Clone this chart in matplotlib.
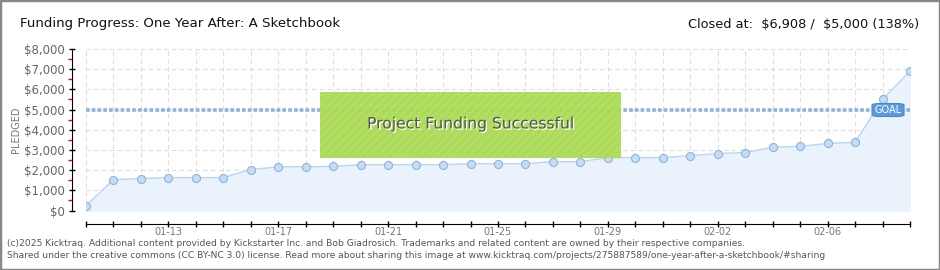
import matplotlib
matplotlib.use("Agg")
import matplotlib.pyplot as plt
from matplotlib.patches import Rectangle, FancyBboxPatch
import matplotlib.patheffects as pe
import numpy as np

# ---- data ----
dates = ["01-10", "01-11", "01-12", "01-13", "01-14", "01-15", "01-16", "01-17",
         "01-18", "01-19", "01-20", "01-21", "01-22", "01-23", "01-24", "01-25",
         "01-26", "01-27", "01-28", "01-29", "01-30", "01-31", "02-01", "02-02",
         "02-03", "02-04", "02-05", "02-06", "02-07", "02-08", "02-09"]
pledged = [240, 1530, 1580, 1630, 1630, 1630, 2030, 2160, 2170, 2180, 2270, 2270,
           2270, 2270, 2320, 2320, 2320, 2420, 2420, 2620, 2620, 2620, 2720, 2820,
           2870, 3130, 3180, 3320, 3380, 5510, 6908]
goal = 5000
labeled_dates = ["01-13", "01-17", "01-21", "01-25", "01-29", "02-02", "02-06"]
yticks = [0, 1000, 2000, 3000, 4000, 5000, 6000, 7000, 8000]
ytick_labels = ["$0", "$1,000", "$2,000", "$3,000", "$4,000", "$5,000", "$6,000", "$7,000", "$8,000"]

W, H = 940, 270
fig = plt.figure(figsize=(W / 100, H / 100), dpi=100)

def fx(px):
    return px / W

def fy(py):
    return 1 - py / H

ax = fig.add_axes([fx(86), fy(210.5), fx(910) - fx(86), fy(49) - fy(210.5)])
x = np.arange(len(dates))
ax.set_xlim(0, len(dates) - 1)
ax.set_ylim(0, 8000)

# grid
ax.set_xticks(x)
ax.set_yticks(yticks)
ax.grid(True, color="#dddddd", linestyle=(0, (4, 3)), linewidth=0.8)
ax.set_axisbelow(True)

# area + line + markers
ax.fill_between(x, pledged, 0, color="#eaf3fc", zorder=1)
ax.plot(x, pledged, color="#b9d5f2", linewidth=1.0, zorder=3)
ax.plot(x, pledged, linestyle="none", marker="o", markersize=5.8,
        markerfacecolor="#c4dcf6", markeredgecolor="#90b4dc", markeredgewidth=0.8, zorder=4)

# goal line
ax.axhline(goal, color="#8cb2e0", linewidth=2.6, linestyle=(0, (1.0, 0.6)), zorder=2)

# spines
for s in ["top", "right"]:
    ax.spines[s].set_visible(False)
ax.spines["left"].set_position(("outward", 10))
ax.spines["bottom"].set_position(("outward", 10))
ax.spines["left"].set_color("black")
ax.spines["bottom"].set_color("black")

ax.set_yticklabels(ytick_labels)
ax.set_xticklabels([d if d in labeled_dates else "" for d in dates])
ax.tick_params(axis="y", direction="inout", length=5, width=1, colors="black",
               labelcolor="#666666", labelsize=8.5, pad=3)
ax.tick_params(axis="x", direction="inout", length=5, width=1, colors="black",
               labelcolor="#777777", labelsize=7, pad=-0.5)
ax.set_yticks([v + 500 for v in yticks[:-1]], minor=True)
ax.tick_params(axis="y", which="minor", direction="out", length=3, width=1, color="red")

ax.set_ylabel("PLEDGED", color="#777777", fontsize=7, labelpad=2)

# green success box (axes coords)
bx0, bx1 = (320 - 86) / 824, (621 - 86) / 824
by0, by1 = (210.5 - 157.7) / 161.5, (210.5 - 91.7) / 161.5
ax.add_patch(Rectangle((bx0, by0), bx1 - bx0, by1 - by0, transform=ax.transAxes,
                       facecolor="#a6da4c", edgecolor="#b8e070", alpha=0.93,
                       hatch="////", linewidth=0, zorder=5))
ax.text((bx0 + bx1) / 2, (by0 + by1) / 2 + 0.005, "Project Funding Successful",
        transform=ax.transAxes, ha="center", va="center", fontsize=11.2,
        color="#555555", zorder=6,
        path_effects=[pe.withSimplePatchShadow(offset=(1, -1), shadow_rgbFace="white", alpha=1)])

# GOAL label
gx0, gx1 = (872 - 86) / 824, (904 - 86) / 824
gy0, gy1 = (210.5 - 116.5) / 161.5, (210.5 - 103.5) / 161.5
ax.add_patch(FancyBboxPatch((gx0, gy0), gx1 - gx0, gy1 - gy0, transform=ax.transAxes,
                            boxstyle="round,pad=0,rounding_size=0.01",
                            facecolor="#5a9ae0", edgecolor="#4a88cc", linewidth=0.8, zorder=6))
ax.text((gx0 + gx1) / 2, (gy0 + gy1) / 2, "GOAL", transform=ax.transAxes,
        ha="center", va="center", fontsize=7, color="white", zorder=7)

# titles
fig.text(fx(20), fy(24), "Funding Progress: One Year After: A Sketchbook",
         ha="left", va="center", fontsize=9.6, color="#111111")
fig.text(fx(919), fy(24), "Closed at:  \\$6,908 /  \\$5,000 (138%)",
         ha="right", va="center", fontsize=9.3, color="#111111")

# footer
fig.text(fx(7), fy(243), "(c)2025 Kicktraq. Additional content provided by Kickstarter Inc. and Bob Giadrosich. Trademarks and related content are owned by their respective companies.",
         ha="left", va="center", fontsize=6.6, color="#555555")
fig.text(fx(7), fy(255.5), "Shared under the creative commons (CC BY-NC 3.0) license. Read more about sharing this image at www.kicktraq.com/projects/275887589/one-year-after-a-sketchbook/#sharing",
         ha="left", va="center", fontsize=6.6, color="#555555")

# outer border
fig.add_artist(Rectangle((0, 0), 1, 1, transform=fig.transFigure, fill=False,
                         edgecolor="#888888", linewidth=2.5))

fig.savefig("out.png", dpi=100)
